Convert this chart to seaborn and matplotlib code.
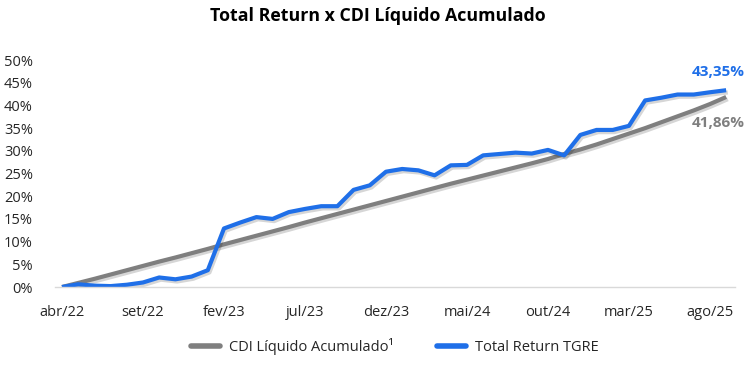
import numpy as np
import pandas as pd
import matplotlib
matplotlib.use("Agg")
import matplotlib.pyplot as plt
import matplotlib.patheffects as pe
from matplotlib.ticker import PercentFormatter
from matplotlib.lines import Line2D
import seaborn as sns

sns.set_theme(style="white")
plt.rcParams['font.family'] = ['Open Sans', 'DejaVu Sans']

# meses abr/22 .. set/25
meses = ['jan', 'fev', 'mar', 'abr', 'mai', 'jun', 'jul', 'ago', 'set', 'out', 'nov', 'dez']
periodos = [f"{meses[(3 + i) % 12]}/{22 + (3 + i) // 12}" for i in range(42)]

total_return = [0.0, 0.6, 0.3, 0.2, 0.5, 1.0, 2.1, 1.7, 2.3, 3.7,
                12.9, 14.2, 15.4, 15.0, 16.5, 17.2, 17.8, 17.8, 21.4, 22.4,
                25.4, 26.0, 25.7, 24.6, 26.8, 26.9, 29.0, 29.3, 29.6, 29.4,
                30.2, 29.0, 33.5, 34.6, 34.6, 35.5, 41.1, 41.7, 42.4, 42.4,
                42.9, 43.35]
cdi = [0.0, 0.9, 1.8, 2.75, 3.7, 4.65, 5.6, 6.5, 7.45, 8.4,
       9.4, 10.35, 11.3, 12.25, 13.2, 14.2, 15.15, 16.1, 17.05, 18.0,
       18.95, 19.9, 20.85, 21.8, 22.75, 23.65, 24.55, 25.45, 26.35, 27.25,
       28.2, 29.3, 30.3, 31.4, 32.6, 33.8, 35.0, 36.3, 37.6, 38.9,
       40.3, 41.86]

serie_cdi = 'CDI Líquido Acumulado¹'
serie_tr = 'Total Return TGRE'
cor_cdi = '#7F7F7F'
cor_tr = '#1F6FE8'

df = pd.DataFrame({
    'mes': list(range(len(periodos))) * 2,
    'valor': [v / 100 for v in cdi] + [v / 100 for v in total_return],
    'serie': [serie_cdi] * len(cdi) + [serie_tr] * len(total_return),
})

fig = plt.figure(figsize=(7.56, 3.78), dpi=100)
ax = fig.add_axes([0.0728, 0.2407, 0.8995, 0.6005])

sns.lineplot(data=df, x='mes', y='valor', hue='serie',
             palette={serie_cdi: cor_cdi, serie_tr: cor_tr},
             linewidth=3.0, ax=ax, legend=False)

# sombra suave sob as linhas
sombra = [pe.SimpleLineShadow(offset=(1.2, -1.6), shadow_color='black', alpha=0.16),
          pe.Normal()]
for ln in ax.get_lines():
    ln.set_path_effects(sombra)
    ln.set_solid_capstyle('butt')

ax.set_xlim(-0.43, 41.55)
ax.set_ylim(0, 0.5)
ax.set_yticks(np.arange(0, 0.51, 0.05))
ax.yaxis.set_major_formatter(PercentFormatter(1.0, decimals=0))
xt = list(range(0, 42, 5))
ax.set_xticks(xt)
ax.set_xticklabels([periodos[i] for i in xt])
ax.tick_params(axis='y', labelsize=10.5, colors='#262626', pad=16, length=0)
ax.tick_params(axis='x', labelsize=10.5, colors='#262626', pad=13, length=0)
ax.set_xlabel('')
ax.set_ylabel('')

for s in ['top', 'right', 'left']:
    ax.spines[s].set_visible(False)
ax.spines['bottom'].set_color('#D9D9D9')
ax.spines['bottom'].set_linewidth(1.0)

ax.annotate('43,35%', xy=(41, total_return[-1] / 100), xytext=(-8, 18),
            textcoords='offset pixels', ha='center', va='center',
            fontsize=11, fontweight='bold', color=cor_tr)
ax.annotate('41,86%', xy=(41, cdi[-1] / 100), xytext=(-8, -26),
            textcoords='offset pixels', ha='center', va='center',
            fontsize=11, fontweight='bold', color=cor_cdi)

fig.text(0.5, 0.957, 'Total Return x CDI Líquido Acumulado', ha='center', va='center',
         fontsize=12.8, fontweight='bold', color='black')

handles = [Line2D([0], [0], color=cor_cdi, lw=4), Line2D([0], [0], color=cor_tr, lw=4)]
fig.legend(handles, [serie_cdi, serie_tr], loc='center', bbox_to_anchor=(0.522, 0.083),
           ncol=2, frameon=False, fontsize=10.5, handlelength=2.0, columnspacing=3.0,
           handletextpad=0.6, labelcolor='#262626')

fig.savefig('out.png', dpi=100, facecolor='white')
